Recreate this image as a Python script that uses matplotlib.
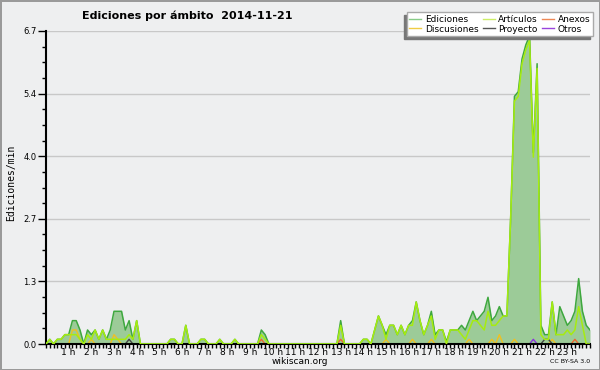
import numpy as np
import matplotlib as mpl
mpl.use('Agg')
from matplotlib import pyplot as plt
from matplotlib.lines import Line2D
from matplotlib.patches import Rectangle

# edits per minute, 10 minute bins, 00:00 -> 24:00 (145 points)
hours = np.arange(145) / 6.0

ediciones = [
    0, 0.1, 0, 0.1, 0.1, 0.2, 0.2, 0.5, 0.5, 0.3, 0, 0.3,
    0.2, 0.3, 0.1, 0.3, 0.1, 0.3, 0.7, 0.7, 0.7, 0.3, 0.5, 0.1,
    0.5, 0, 0, 0, 0, 0, 0, 0, 0, 0.1, 0.1, 0,
    0, 0.4, 0, 0, 0, 0.1, 0.1, 0, 0, 0, 0.1, 0,
    0, 0, 0.1, 0, 0, 0, 0, 0, 0, 0.3, 0.2, 0,
    0, 0, 0, 0, 0, 0, 0, 0, 0, 0, 0, 0,
    0, 0, 0, 0, 0, 0, 0.5, 0, 0, 0, 0, 0,
    0.1, 0.1, 0, 0.3, 0.6, 0.4, 0.2, 0.4, 0.4, 0.2, 0.4, 0.2,
    0.4, 0.5, 0.9, 0.5, 0.2, 0.4, 0.7, 0.2, 0.3, 0.3, 0.05, 0.3,
    0.3, 0.3, 0.4, 0.3, 0.5, 0.7, 0.5, 0.6, 0.7, 1.0, 0.5, 0.6,
    0.8, 0.6, 0.6, 2.7, 5.3, 5.4, 6.1, 6.4, 6.6, 4.1, 6.0, 0.4,
    0.2, 0.2, 0.9, 0.2, 0.8, 0.6, 0.4, 0.5, 0.7, 1.4, 0.7, 0.4,
    0.3,
]
articulos = [
    0, 0.1, 0, 0.1, 0.1, 0.2, 0.2, 0.2, 0.2, 0.1, 0, 0.2,
    0.1, 0.3, 0.1, 0.3, 0.1, 0.1, 0.1, 0.1, 0.1, 0.1, 0.2, 0.1,
    0.5, 0, 0, 0, 0, 0, 0, 0, 0, 0.1, 0.1, 0,
    0, 0.4, 0, 0, 0, 0.1, 0.1, 0, 0, 0, 0.1, 0,
    0, 0, 0.1, 0, 0, 0, 0, 0, 0, 0.2, 0.1, 0,
    0, 0, 0, 0, 0, 0, 0, 0, 0, 0, 0, 0,
    0, 0, 0, 0, 0, 0, 0.4, 0, 0, 0, 0, 0,
    0.1, 0.1, 0, 0.3, 0.6, 0.4, 0.1, 0.4, 0.4, 0.2, 0.4, 0.2,
    0.4, 0.4, 0.9, 0.5, 0.2, 0.4, 0.6, 0.1, 0.3, 0.3, 0, 0.3,
    0.3, 0.3, 0.2, 0.1, 0.3, 0.5, 0.5, 0.4, 0.3, 0.7, 0.4, 0.4,
    0.5, 0.6, 0.6, 2.7, 5.2, 5.3, 6.0, 6.3, 6.5, 4.0, 5.9, 0.2,
    0.1, 0.1, 0.9, 0.2, 0.2, 0.2, 0.3, 0.2, 0.3, 0.8, 0.4, 0,
    0,
]
# sparse series: {bin index: value}
discusiones = {7: 0.3, 8: 0.3, 9: 0.1, 12: 0.1, 18: 0.2, 19: 0.1, 90: 0.1, 97: 0.1,
               102: 0.1, 112: 0.1, 118: 0.1, 120: 0.2, 124: 0.1, 134: 0.1}
anexos = {57: 0.1, 78: 0.1, 140: 0.1}
proyecto = {22: 0.1, 132: 0.1, 133: 0.1}
otros = {129: 0.1}

def dense(d):
    v = np.zeros(len(hours))
    for k in d:
        v[k] = d[k]
    return v

bg = '#eeeff0'
fig = plt.figure(figsize=(6, 3.7), dpi=100, facecolor=bg)
fig.patch.set_edgecolor('#9a9a9a')
fig.patch.set_linewidth(2)
ax = fig.add_axes([46/600, 1-344/370, 544/600, 313/370])
ax.set_facecolor(bg)

ax.fill_between(hours, ediciones, color='#9ccb98', lw=0, zorder=1)
ax.plot(hours, ediciones, color='#3ea83e', lw=1.1, zorder=3)
ax.plot(hours, articulos, color='#a6ec10', lw=1.1, zorder=4)
ax.plot(hours, dense(discusiones), color='#f0c020', lw=1, zorder=2)
ax.plot(hours, dense(anexos), color='#ee6630', lw=1, zorder=2)
ax.plot(hours, dense(proyecto), color='#444444', lw=1, zorder=2)
ax.plot(hours, dense(otros), color='#8833dd', lw=1, zorder=2)

ymax = 6.7
ax.set_xlim(0, 24)
ax.set_ylim(0, ymax)
yt = np.linspace(0, ymax, 6)
ax.set_yticks(yt)
ax.set_yticklabels([f'{v:.1f}' for v in yt], fontsize=6)
ax.set_yticks(np.linspace(0, ymax, 21), minor=True)
ax.set_xticks(np.arange(0, 25))
ax.set_xticklabels([''] + [f'{h} h' for h in range(1, 24)] + [''], fontsize=6.5)
ax.set_xticks(np.arange(0, 145) / 6.0, minor=True)
ax.tick_params(axis='y', which='major', length=6, width=1, pad=1)
ax.tick_params(axis='y', which='minor', length=3, width=1)
ax.tick_params(axis='x', which='both', length=3, width=1, pad=0)
ax.grid(axis='y', color='#c8c8c8', lw=1)
ax.set_axisbelow(True)
for s in ['top', 'right']:
    ax.spines[s].set_visible(False)
ax.spines['left'].set_linewidth(1.5)
ax.spines['bottom'].set_linewidth(1.5)

fig.text(0.312, 0.958, 'Ediciones por ámbito  2014-11-21', ha='center', va='center',
         fontsize=8, fontweight='bold')
fig.text(0.018, 0.505, 'Ediciones/min', rotation=90, ha='center', va='center',
         fontsize=7, family='DejaVu Sans Mono')
fig.text(0.5, 0.024, 'wikiscan.org', ha='center', va='center', fontsize=6.5)
fig.text(0.983, 0.022, 'CC BY-SA 3.0', ha='right', va='center', fontsize=4.5)

handles = [
    Line2D([], [], color='#88cc88', lw=1),
    Line2D([], [], color='#f0cc44', lw=1),
    Line2D([], [], color='#ccee66', lw=1),
    Line2D([], [], color='#555555', lw=1),
    Line2D([], [], color='#ee8855', lw=1),
    Line2D([], [], color='#9944dd', lw=1),
]
labels = ['Ediciones', 'Discusiones', 'Artículos', 'Proyecto', 'Anexos', 'Otros']
leg = fig.legend(handles, labels, ncol=3, loc='upper right', bbox_to_anchor=(593/600, 1-12/370),
                 borderaxespad=0, fontsize=6.5, frameon=True, fancybox=False,
                 edgecolor='#aaaaaa', framealpha=1, handlelength=1.3, handletextpad=0.4,
                 columnspacing=0.5, labelspacing=0.1, borderpad=0.3)
leg.get_frame().set_linewidth(1)
fig.canvas.draw()
bb = leg.get_window_extent().transformed(fig.transFigure.inverted())
fig.patches.append(Rectangle((bb.x0 - 3/600, bb.y0 - 3/370), bb.width, bb.height,
                             transform=fig.transFigure, color='#777777', zorder=0))

fig.savefig('out.png', dpi=100, facecolor=bg, edgecolor=fig.get_edgecolor())
